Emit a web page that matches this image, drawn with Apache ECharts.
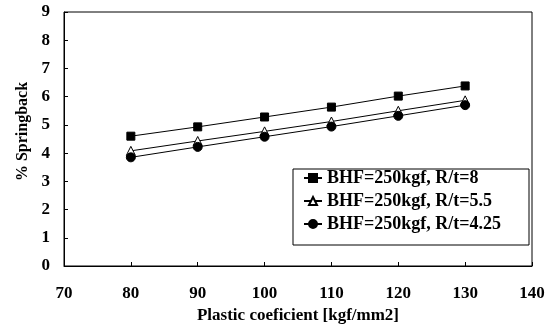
<!DOCTYPE html>
<html><head><meta charset="utf-8">
<script src="https://cdn.jsdelivr.net/npm/echarts@6/dist/echarts.min.js"></script>
<style>html,body{margin:0;padding:0;background:#fff}#c{width:551px;height:324px}</style>
</head><body><div id="c"></div>
<script>
const xValues = [80, 90, 100, 110, 120, 130];
const seriesNames = ['BHF=250kgf, R/t=8', 'BHF=250kgf, R/t=5.5', 'BHF=250kgf, R/t=4.25'];
const rt8 = [4.6, 4.93, 5.28, 5.63, 6.02, 6.38];
const rt55 = [4.08, 4.43, 4.77, 5.12, 5.5, 5.87];
const rt425 = [3.85, 4.22, 4.58, 4.94, 5.32, 5.7];
const xTitle = 'Plastic coeficient [kgf/mm2]';
const yTitle = '% Springback';

const font = 'Liberation Serif, Times New Roman, serif';
const pair = arr => xValues.map((x, i) => [x, arr[i]]);
const chart = echarts.init(document.getElementById('c'), null, {renderer: 'canvas'});
const mk = (name, data, symbol, size, fill) => ({
  name, type: 'line', data: pair(data), symbol, symbolSize: size,
  lineStyle: {color: '#000', width: 1},
  itemStyle: {color: fill, borderColor: '#000', borderWidth: 1},
  emphasis: {disabled: true}, animation: false
});
chart.setOption({
  animation: false,
  grid: {left: 64, top: 12, width: 468, height: 254, outerBoundsMode: 'none', containLabel: false,
         show: true, borderColor: '#000', borderWidth: 1, backgroundColor: 'transparent'},
  xAxis: {
    type: 'value', min: 70, max: 140, interval: 10,
    name: xTitle, nameLocation: 'middle', nameGap: 34,
    nameTextStyle: {fontFamily: font, fontWeight: 'bold', fontSize: 17, color: '#000'},
    axisLine: {show: true, lineStyle: {color: '#000', width: 1}},
    axisTick: {show: true, inside: true, length: 4, lineStyle: {color: '#000'}},
    axisLabel: {margin: 19, fontFamily: font, fontWeight: 'bold', fontSize: 17, color: '#000'},
    splitLine: {show: false}
  },
  yAxis: {
    type: 'value', min: 0, max: 9, interval: 1,
    name: yTitle, nameLocation: 'middle', nameGap: 20, nameRotate: 90,
    nameTextStyle: {fontFamily: font, fontWeight: 'bold', fontSize: 16, color: '#000', padding: [0, 0, 0, 15]},
    axisLine: {show: true, lineStyle: {color: '#000', width: 1}},
    axisTick: {show: true, inside: true, length: 4, lineStyle: {color: '#000'}},
    axisLabel: {margin: 14, fontFamily: font, fontWeight: 'bold', fontSize: 17, color: '#000'},
    splitLine: {show: false}
  },
  legend: {
    orient: 'vertical', left: 293, top: 169,
    padding: [0, 28, 12, 10], itemGap: 5, itemWidth: 18, itemHeight: 10,
    borderColor: '#000', borderWidth: 1, backgroundColor: '#fff',
    textStyle: {fontFamily: font, fontWeight: 'bold', fontSize: 18, lineHeight: 14, color: '#000'},
    data: seriesNames
  },
  series: [
    mk(seriesNames[0], rt8, 'rect', 8, '#000'),
    mk(seriesNames[1], rt55, 'triangle', 9, '#fff'),
    mk(seriesNames[2], rt425, 'circle', 9, '#000')
  ]
});
</script></body></html>
